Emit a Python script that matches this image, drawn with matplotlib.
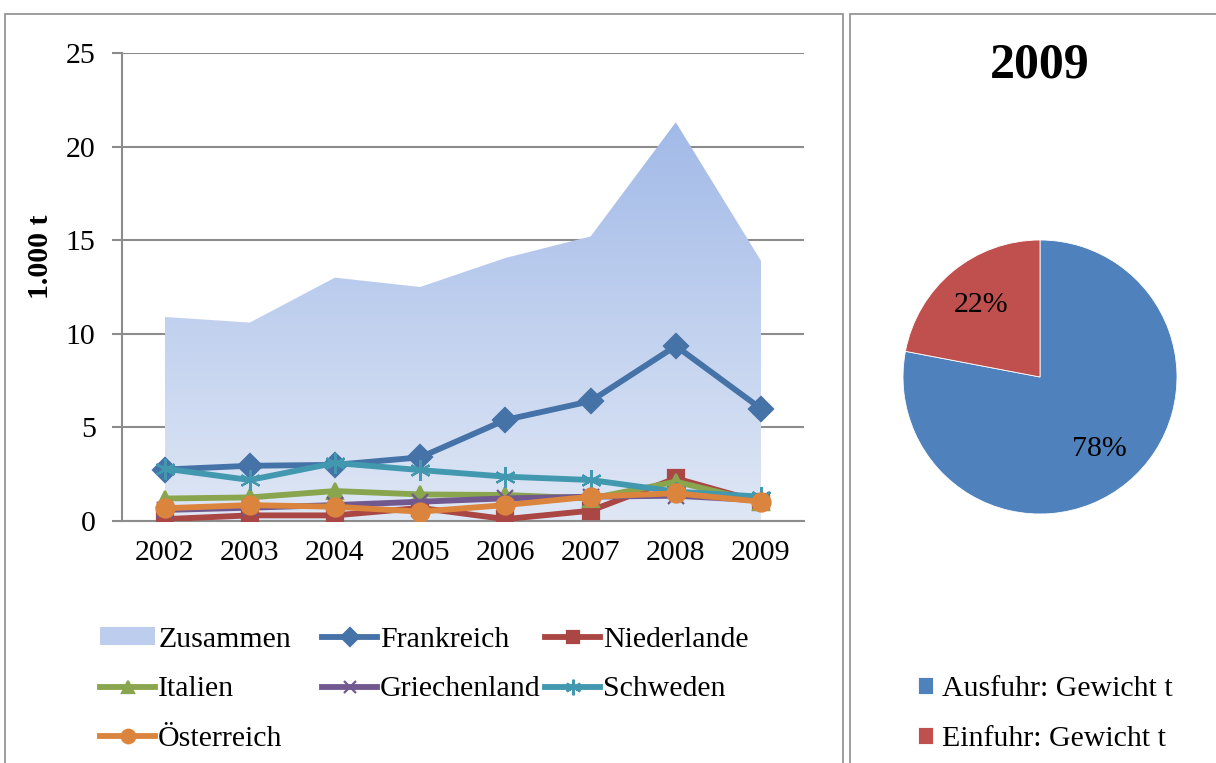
import matplotlib
matplotlib.use('Agg')
import matplotlib.pyplot as plt
import numpy as np
from matplotlib.patches import Rectangle, Patch
from matplotlib.colors import LinearSegmentedColormap

# data v tisicoch ton
jahre = ['2002', '2003', '2004', '2005', '2006', '2007', '2008', '2009']
zusammen = [10.9, 10.6, 13.0, 12.5, 14.05, 15.2, 21.3, 13.9]
frankreich = [2.75, 2.95, 3.0, 3.4, 5.4, 6.4, 9.35, 6.0]
niederlande = [0.1, 0.3, 0.3, 0.7, 0.1, 0.55, 2.28, 1.0]
italien = [1.2, 1.26, 1.6, 1.42, 1.39, 1.2, 2.1, 1.0]
griechenland = [0.59, 0.71, 0.85, 1.03, 1.21, 1.3, 1.35, 1.1]
schweden = [2.8, 2.19, 3.1, 2.72, 2.37, 2.19, 1.57, 1.3]
oesterreich = [0.68, 0.85, 0.76, 0.5, 0.85, 1.3, 1.48, 1.03]

# kolac pre rok 2009
pie_labels = ['Ausfuhr: Gewicht t', 'Einfuhr: Gewicht t']
pie_values = [78, 22]
pie_title = '2009'

plt.rcParams['font.family'] = ['Liberation Serif', 'DejaVu Serif']
FS = 21.5
W, H = 1216, 763

fig = plt.figure(figsize=(W / 100, H / 100), dpi=100)

def fx(px):
    return px / W

def fy(py):
    return 1 - py / H

# ramceky okolo oboch grafov
for x0, x1 in [(5, 843), (850, 1240)]:
    fig.patches.append(Rectangle((fx(x0), fy(800)), fx(x1 - x0), (800 - 14) / H,
                                 transform=fig.transFigure, fill=False,
                                 edgecolor='#8c8c8c', linewidth=1.2, clip_on=False))

# ciarovy graf
ax = fig.add_axes([fx(122), fy(521), fx(803.6 - 122), (521 - 53) / H])
x = np.arange(len(jahre))

# plocha Zusammen s gradientom
poly = ax.fill_between(x, zusammen, 0, color='none', linewidth=0)
cmap = LinearSegmentedColormap.from_list('zus', ['#dfe7f5', '#a2bae8'])
grad = np.linspace(0, 1, 256).reshape(-1, 1)
img = ax.imshow(grad, cmap=cmap, origin='lower', aspect='auto',
                extent=[x[0], x[-1], 0, max(zusammen)], zorder=1)
img.set_clip_path(poly.get_paths()[0], transform=ax.transData)

lw = 4.2
series = [
    ('Frankreich', frankreich, '#4572a7', 'D', 12),
    ('Niederlande', niederlande, '#aa4643', 's', 11),
    ('Italien', italien, '#89a54e', '^', 12),
    ('Griechenland', griechenland, '#71588f', 'x', 12),
    ('Schweden', schweden, '#4198af', (6, 2, 0), 15),
    ('Österreich', oesterreich, '#db843d', 'o', 13),
]
handles = {}
for i, (name, vals, col, mk, ms) in enumerate(series):
    h, = ax.plot(x, vals, color=col, lw=lw, marker=mk, markersize=ms,
                 markeredgewidth=1.6, markeredgecolor=col, markerfacecolor=col,
                 zorder=3 + i, label=name)
    handles[name] = h
handles['Zusammen'] = Patch(facecolor='#bccdee', edgecolor='none')

ax.set_xlim(-0.5, len(jahre) - 0.5)
ax.set_ylim(0, 25)
ax.set_yticks([0, 5, 10, 15, 20, 25])
ax.set_xticks(x)
ax.set_xticklabels(jahre)
ax.grid(axis='y', color='#8c8c8c', linewidth=1.5)
ax.set_axisbelow(True)
for s in ['top', 'right']:
    ax.spines[s].set_visible(False)
ax.spines['left'].set_color('#8c8c8c')
ax.spines['bottom'].set_color('#8c8c8c')
ax.spines['left'].set_linewidth(1.5)
ax.spines['bottom'].set_linewidth(1.5)
ax.tick_params(axis='y', length=7, width=1.5, color='#8c8c8c', labelsize=FS, pad=12)
ax.tick_params(axis='x', length=0, labelsize=FS, pad=14)
ax.set_facecolor('none')

fig.text(fx(40), fy(257), '1.000 t', rotation=90, fontsize=FS, fontweight='bold',
         ha='center', va='center')

# legenda po stlpcoch
stlpce = [
    (100, ['Zusammen', 'Italien', 'Österreich']),
    (322, ['Frankreich', 'Griechenland']),
    (545, ['Niederlande', 'Schweden']),
]
for xpos, names in stlpce:
    fig.legend([handles[n] for n in names], names, loc='upper left',
               bbox_to_anchor=(fx(xpos), fy(627)), frameon=False, fontsize=FS,
               borderpad=0, borderaxespad=0, handlelength=1.85, handleheight=0.55,
               handletextpad=0.1, labelspacing=0.78, markerscale=0.75)

# kolacovy graf
r = 137
pax = fig.add_axes([fx(1040 - r), fy(377 + r), fx(2 * r), 2 * r / H])
wedges, _, autotexts = pax.pie(pie_values, colors=['#4f81bd', '#c0504d'], startangle=90,
                               counterclock=False, autopct='%1.0f%%', pctdistance=0.68,
                               wedgeprops=dict(edgecolor='white', linewidth=0.6),
                               textprops=dict(fontsize=FS))
pax.set_xlim(-1, 1)
pax.set_ylim(-1, 1)
pax.set_aspect('equal')
fig.text(fx(1040), fy(66), pie_title, fontsize=36, fontweight='bold',
         ha='center', va='center')

fig.legend(wedges, pie_labels, loc='upper left', bbox_to_anchor=(fx(918), fy(676)),
           frameon=False, fontsize=FS, borderpad=0, borderaxespad=0,
           handlelength=0.5, handleheight=0.5, handletextpad=0.3, labelspacing=0.8)

fig.savefig('out.png', dpi=100)
